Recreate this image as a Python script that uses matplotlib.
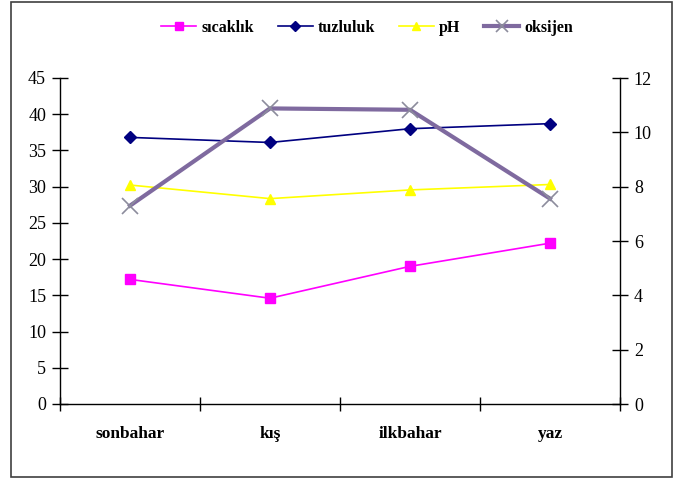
import numpy as np
import matplotlib.pyplot as plt
from matplotlib.patches import Rectangle

# seasons and measured values
seasons = ['sonbahar', 'kış', 'ilkbahar', 'yaz']
sicaklik = [17.2, 14.6, 19.0, 22.2]      # left axis
tuzluluk = [36.8, 36.1, 38.0, 38.7]      # left axis
ph = [8.06, 7.56, 7.88, 8.08]            # right axis
oksijen = [7.3, 10.88, 10.83, 7.56]      # right axis

plt.rcParams['font.family'] = ['Liberation Serif', 'DejaVu Serif']

fig = plt.figure(figsize=(6.73, 4.79), dpi=100)
fig.patches.append(Rectangle((11 / 673, 2 / 479), 661 / 673, 475 / 479, transform=fig.transFigure,
                             fill=False, edgecolor='#404040', linewidth=1.2))

ax = fig.add_axes([60 / 673, 1 - 404 / 479, 560 / 673, 326 / 479])
ax2 = ax.twinx()

x = np.arange(len(seasons))

l1, = ax.plot(x, sicaklik, color='#FF00FF', marker='s', markersize=7, linewidth=1.2, label='sıcaklık')
l2, = ax.plot(x, tuzluluk, color='#000080', marker='D', markersize=6, linewidth=1.2, label='tuzluluk')
l3, = ax2.plot(x, ph, color='#FFFF00', marker='^', markersize=7, linewidth=1.2, label='pH')
l4, = ax2.plot(x, oksijen, color='#7F6A9F', marker='x', markersize=11, markeredgecolor='#8C8C9C',
               markeredgewidth=1.2, linewidth=3, label='oksijen')

ax.set_xlim(-0.5, 3.5)
ax.set_ylim(0, 45)
ax2.set_ylim(0, 12)
ax.set_yticks(np.arange(0, 46, 5))
ax2.set_yticks(np.arange(0, 13, 2))

ax.set_xticks(np.arange(-0.5, 3.6, 1))
ax.set_xticklabels([])
ax.set_xticks(x, minor=True)
ax.set_xticklabels(seasons, minor=True, fontsize=12.5, fontweight='bold')
ax.tick_params(axis='x', which='minor', length=0, pad=16)
ax.tick_params(axis='x', which='major', direction='inout', length=10, width=1)
ax.tick_params(axis='y', direction='inout', length=12, width=1, labelsize=13, pad=4)
ax2.tick_params(axis='y', direction='inout', length=12, width=1, labelsize=13, pad=4)

for a in (ax, ax2):
    a.spines['top'].set_visible(False)
    for s in a.spines.values():
        s.set_linewidth(1)
ax.spines['right'].set_visible(False)
ax2.spines['left'].set_visible(False)
ax2.spines['bottom'].set_visible(False)

fig.legend(handles=[l1, l2, l3, l4], loc='center', bbox_to_anchor=(367 / 673, 1 - 28 / 479),
           ncol=4, frameon=False, handlelength=2.2, handletextpad=0.3, columnspacing=1.5,
           markerscale=0.8, prop={'size': 11.5, 'weight': 'bold'})

fig.savefig('out.png', dpi=100)
